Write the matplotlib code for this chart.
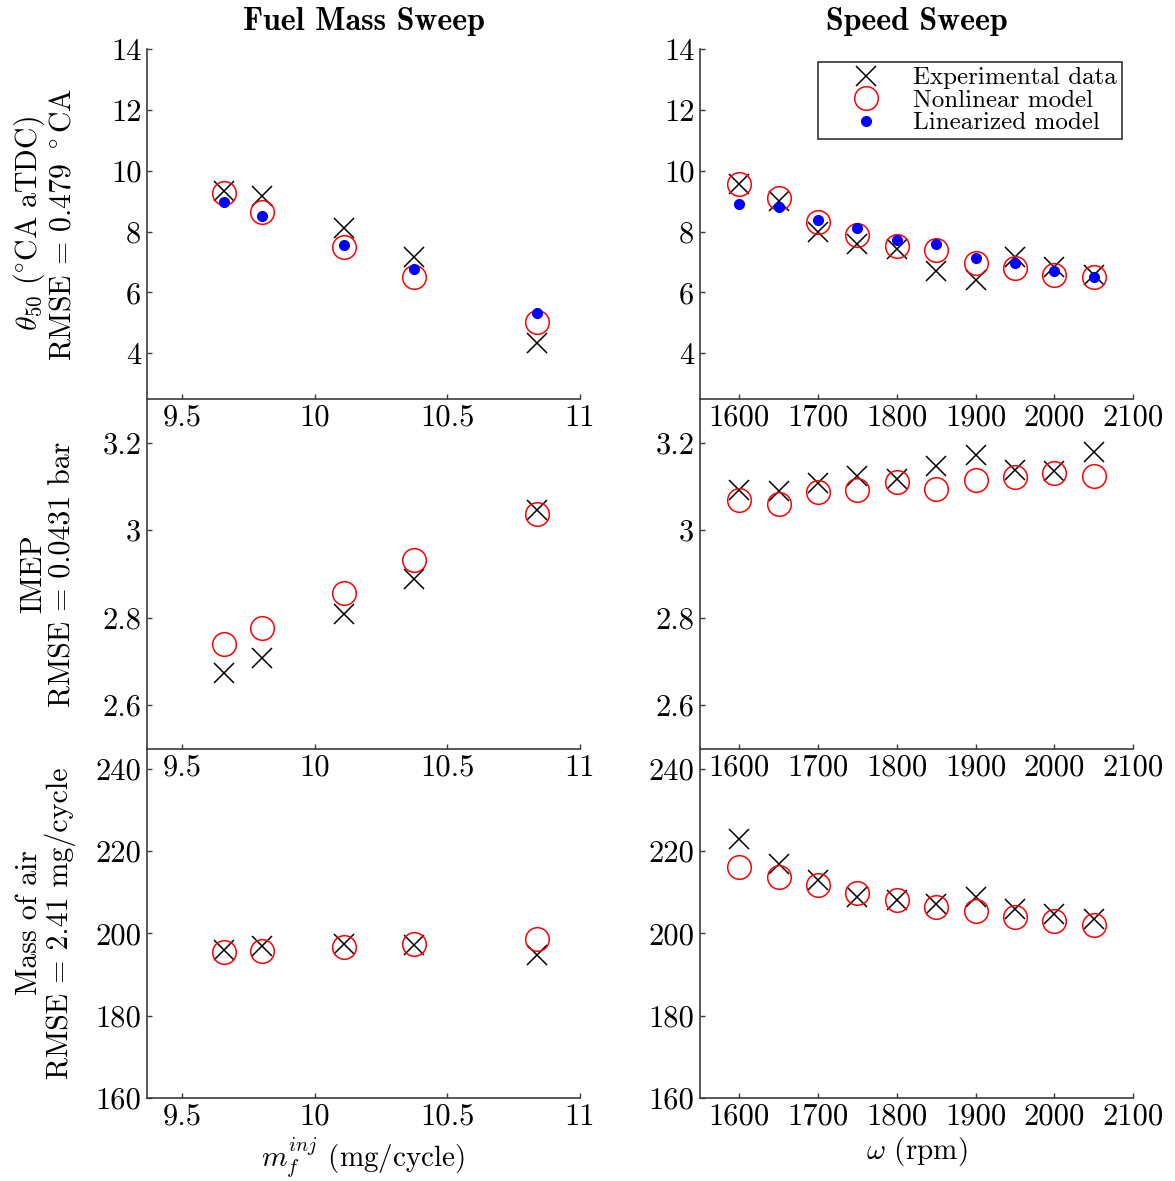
import numpy as np
import matplotlib
matplotlib.use("Agg")
import matplotlib.pyplot as plt
from matplotlib.ticker import FuncFormatter

plt.rcParams['font.family'] = ['cmr10']
plt.rcParams['mathtext.fontset'] = 'cm'
plt.rcParams['axes.formatter.use_mathtext'] = True
plt.rcParams['axes.unicode_minus'] = False

# fuel mass sweep (mg/cycle)
mf = [9.657, 9.80, 10.112, 10.375, 10.837]
# speed sweep (rpm)
rpm = [1600, 1650, 1700, 1750, 1800, 1850, 1900, 1950, 2000, 2050]

# theta50 (deg CA aTDC)
th_mf_exp = [9.35, 9.18, 8.11, 7.18, 4.33]
th_mf_nl = [9.26, 8.66, 7.49, 6.50, 5.04]
th_mf_lin = [8.96, 8.52, 7.56, 6.76, 5.34]
th_rpm_exp = [9.57, 8.99, 8.00, 7.60, 7.42, 6.69, 6.41, 7.18, 6.85, 6.58]
th_rpm_nl = [9.57, 9.12, 8.33, 7.88, 7.53, 7.38, 6.96, 6.79, 6.58, 6.52]
th_rpm_lin = [8.92, 8.82, 8.39, 8.11, 7.73, 7.59, 7.13, 6.96, 6.69, 6.50]

# IMEP (bar)
imep_mf_exp = [2.673, 2.709, 2.809, 2.889, 3.046]
imep_mf_nl = [2.740, 2.777, 2.856, 2.931, 3.038]
imep_rpm_exp = [3.093, 3.090, 3.107, 3.124, 3.118, 3.148, 3.173, 3.137, 3.136, 3.178]
imep_rpm_nl = [3.069, 3.061, 3.088, 3.093, 3.111, 3.095, 3.115, 3.121, 3.130, 3.125]

# mass of air (mg/cycle)
air_mf_exp = [196.0, 197.0, 197.3, 197.1, 194.8]
air_mf_nl = [195.4, 195.6, 196.6, 197.3, 198.6]
air_rpm_exp = [222.9, 216.8, 213.0, 208.7, 208.1, 207.1, 208.9, 205.9, 204.8, 203.4]
air_rpm_nl = [216.2, 213.6, 211.8, 209.8, 208.2, 206.5, 205.3, 203.9, 202.9, 201.9]

ylabels = [r'$\theta_{50}$ $(\!{}^\circ\!\mathrm{CA\ aTDC})$' + '\n' + r'RMSE = 0.479 $^\circ\mathrm{CA}$',
           'IMEP\nRMSE = 0.0431 bar',
           'Mass of air\nRMSE = 2.41 mg/cycle']
ylims = [(2.5, 14), (2.5, 3.3), (160, 245)]
yticks = [[4, 6, 8, 10, 12, 14], [2.6, 2.8, 3.0, 3.2], [160, 180, 200, 220, 240]]

fig = plt.figure(figsize=(11.75, 11.81), dpi=100)

lefts = [147/1175, 700/1175]
width = 433/1175
tops = [49, 399, 748]
h = 350/1181

fmt = FuncFormatter(lambda v, p: '%g' % v)

axes = []
for r in range(3):
    row = []
    for c in range(2):
        ax = fig.add_axes([lefts[c], 1 - (tops[r] + 350)/1181, width, h])
        ax.spines['top'].set_visible(False)
        ax.spines['right'].set_visible(False)
        for s in ['left', 'bottom']:
            ax.spines[s].set_color('#3c3c3c')
            ax.spines[s].set_linewidth(1.2)
        ax.tick_params(direction='in', length=3.5, width=1, labelsize=22,
                       colors='#3c3c3c', labelcolor='black', pad=4)
        ax.set_ylim(ylims[r])
        ax.set_yticks(yticks[r])
        ax.yaxis.set_major_formatter(fmt)
        ax.xaxis.set_major_formatter(fmt)
        if c == 0:
            ax.set_xlim(9.368, 11)
            ax.set_xticks([9.5, 10, 10.5, 11])
        else:
            ax.set_xlim(1550, 2100)
            ax.set_xticks([1600, 1700, 1800, 1900, 2000, 2100])
        ax.patch.set_alpha(0)
        row.append(ax)
    axes.append(row)

xk = dict(marker='x', color='black', ls='none', ms=14, mew=1.1, label='Experimental data')
ok = dict(marker='o', mfc='none', mec='red', ls='none', ms=17, mew=1.1, label='Nonlinear model')
dk = dict(marker='o', color='blue', ls='none', ms=7, label='Linearized model')

data = [
    [(mf, th_mf_exp, th_mf_nl, th_mf_lin), (rpm, th_rpm_exp, th_rpm_nl, th_rpm_lin)],
    [(mf, imep_mf_exp, imep_mf_nl, None), (rpm, imep_rpm_exp, imep_rpm_nl, None)],
    [(mf, air_mf_exp, air_mf_nl, None), (rpm, air_rpm_exp, air_rpm_nl, None)],
]

for r in range(3):
    for c in range(2):
        ax = axes[r][c]
        x, e, n, l = data[r][c]
        ax.plot(x, e, **xk)
        ax.plot(x, n, **ok)
        if l is not None:
            ax.plot(x, l, **dk)

for r in range(3):
    axes[r][0].set_ylabel(ylabels[r], fontsize=21.5, linespacing=1.1)
    axes[r][0].yaxis.set_label_coords(-0.163, 0.5)

axes[0][0].set_title('Fuel Mass Sweep', fontsize=23, family='cmb10', pad=14)
axes[0][1].set_title('Speed Sweep', fontsize=23, family='cmb10', pad=14)
axes[2][0].set_xlabel(r'$m_f^{inj}$ (mg/cycle)', fontsize=21, labelpad=3)
axes[2][1].set_xlabel(r'$\omega$ (rpm)', fontsize=21, labelpad=3)

leg = axes[0][1].legend(loc='upper right', bbox_to_anchor=(0.975, 0.963), borderaxespad=0,
                        fontsize=18, labelspacing=0.0, handletextpad=0.2, borderpad=0.2,
                        handlelength=3.4, fancybox=False, frameon=True)
leg.get_frame().set_edgecolor('black')
leg.get_frame().set_linewidth(1.2)

fig.savefig('out.png', dpi=100)
